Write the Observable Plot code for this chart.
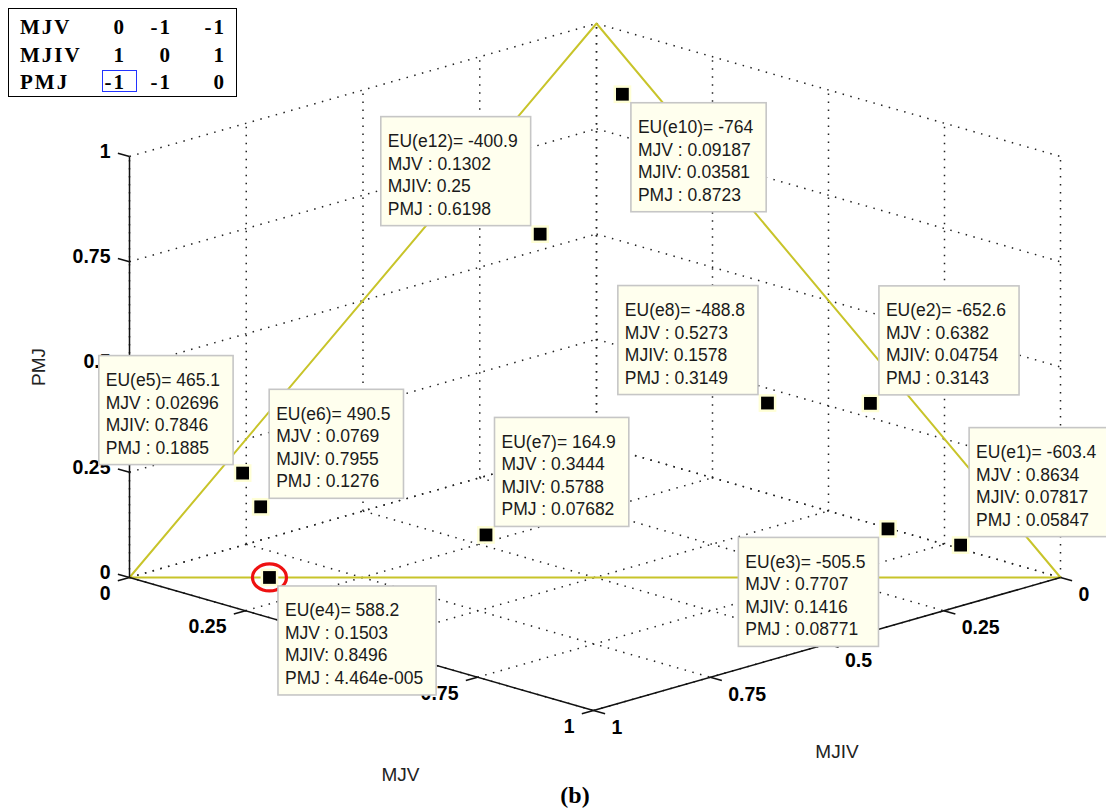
<!DOCTYPE html>
<html>
<head>
<meta charset="utf-8">
<script src="https://cdn.jsdelivr.net/npm/d3@7"></script>
<script src="https://cdn.jsdelivr.net/npm/@observablehq/plot@0.6"></script>
<style>
  body { margin: 0; background: #fff; }
  #wrap { position: relative; width: 1106px; height: 810px; overflow: hidden; }
  .cell { position: absolute; font: bold 21px "Liberation Serif", "Times New Roman", serif; line-height: 21px; letter-spacing: 2px; color: #000; white-space: nowrap; }
  #caption { position: absolute; left: 525px; top: 782px; width: 100px; height: 28px; line-height: 28px; text-align: center; font: bold 24px "Liberation Serif", serif; }
</style>
</head>
<body>
<div id="wrap"></div>
<script>
// ---------------- data ----------------
const tipNames = ["e1", "e2", "e3", "e4", "e5", "e6", "e7", "e8", "e10", "e12"];
const euValues = [-603.4, -652.6, -505.5, 588.2, 465.1, 490.5, 164.9, -488.8, -764, -400.9];
const mjvValues = [0.8634, 0.6382, 0.7707, 0.1503, 0.02696, 0.0769, 0.3444, 0.5273, 0.09187, 0.1302];
const mjivValues = [0.07817, 0.04754, 0.1416, 0.8496, 0.7846, 0.7955, 0.5788, 0.1578, 0.03581, 0.25];
const pmjValues = [0.05847, 0.3143, 0.08771, 4.464e-5, 0.1885, 0.1276, 0.07682, 0.3149, 0.8723, 0.6198];
const highlighted = "e4";

const tickValues = [0, 0.25, 0.5, 0.75, 1];
const tickLabels = ["0", "0.25", "0.5", "0.75", "1"];
const axisNames = ["MJV", "MJIV", "PMJ"];

const tableRows = ["MJV", "MJIV", "PMJ"];
const tableValues = [[0, -1, -1], [1, 0, 1], [-1, -1, 0]];
const tableHighlight = [2, 0];

// ---------------- layout ----------------
const W = 1106, H = 782;
// data-tip box placement relative to its point (u = up, l = left, ...)
const tipSide = ["ur", "ur", "ll", "lr", "ul", "ur", "ur", "ul", "lr", "ul"];

// oblique projection of the 3-D box onto screen units
const O = [129, 577], U = [464, 133], V = [467, -133], Z = 421;
function proj(a, b, c) {
  return [O[0] + U[0] * a + V[0] * (1 - b), O[1] + U[1] * a + V[1] * (1 - b) - Z * c];
}
function seg(p, q, kind) {
  const A = proj(...p), B = proj(...q);
  return {x1: A[0], y1: A[1], x2: B[0], y2: B[1], kind};
}

// MATLAB-like %g with 4 significant digits
function g4(v) {
  if (v === 0) return "0";
  const e = Math.floor(Math.log10(Math.abs(v)));
  if (e < -4 || e >= 4) {
    let [m, ex] = v.toExponential(3).split("e");
    if (m.includes(".")) m = m.replace(/\.?0+$/, "");
    const sign = ex[0] === "-" ? "-" : "+";
    return m + "e" + sign + String(Math.abs(+ex)).padStart(3, "0");
  }
  let s = v.toPrecision(4);
  if (s.includes(".")) s = s.replace(/\.?0+$/, "");
  return s;
}

// grid segments (back walls + floor)
const grid = [];
for (const t of tickValues) {
  grid.push(seg([t, 1, 0], [t, 0, 0]));   // floor, MJV const
  grid.push(seg([0, t, 0], [1, t, 0]));   // floor, MJIV const
  grid.push(seg([0, t, 0], [0, t, 1]));   // wall MJV=0 vertical
  grid.push(seg([0, 1, t], [0, 0, t]));   // wall MJV=0 horizontal
  grid.push(seg([t, 0, 0], [t, 0, 1]));   // wall MJIV=0 vertical
  grid.push(seg([0, 0, t], [1, 0, t]));   // wall MJIV=0 horizontal
}
// axis lines and ticks
const L = 0.025;
const axes = [
  seg([0, 1, 0], [0, 1, 1]),
  seg([0, 1, 0], [1, 1, 0]),
  seg([1, 1, 0], [1, 0, 0])
];
for (const t of tickValues) {
  axes.push(seg([t, 1, 0], [t, 1 + L, 0]));
  axes.push(seg([1, t, 0], [1 + L, t, 0]));
  axes.push(seg([0, 1, t], [-L, 1, t]));
}
const labelsMJV = tickValues.map((t, i) => { const p = proj(t, 1, 0); return {x: p[0], y: p[1], text: tickLabels[i]}; });
const labelsMJIV = tickValues.map((t, i) => { const p = proj(1, t, 0); return {x: p[0], y: p[1], text: tickLabels[i]}; });
const labelsPMJ = tickValues.map((t, i) => { const p = proj(0, 1, t); return {x: p[0], y: p[1], text: tickLabels[i]}; });

// simplex triangle
const simplex = [[1, 0, 0], [0, 1, 0], [0, 0, 1], [1, 0, 0]].map(v => { const p = proj(...v); return {x: p[0], y: p[1]}; });

// points + data tips
const canvas = document.createElement("canvas").getContext("2d");
const tipFont = 17.5;
canvas.font = `${tipFont}px "Liberation Sans"`;
const lineH = 22.5;
const points = tipNames.map((n, i) => {
  const p = proj(mjvValues[i], mjivValues[i], pmjValues[i]);
  const lines = [
    `EU(${n})= ${g4(euValues[i])}`,
    `MJV : ${g4(mjvValues[i])}`,
    `MJIV: ${g4(mjivValues[i])}`,
    `PMJ : ${g4(pmjValues[i])}`
  ];
  const w = Math.max(...lines.map(s => canvas.measureText(s).width)) + 20;
  const h = 4 * lineH + 19;
  const side = tipSide[i];
  const x1 = side[1] === "r" ? p[0] + 9 : p[0] - 9 - w;
  const y1 = side[0] === "l" ? p[1] + 9 : p[1] - 8 - h;
  return {name: n, x: p[0], y: p[1], text: lines.join("\n"), bx1: x1, bx2: x1 + w, by1: y1, by2: y1 + h};
});

const ellipse = {
  draw(ctx) {
    const rx = 17, ry = 13.5, k = 0.5523;
    ctx.moveTo(rx, 0);
    ctx.bezierCurveTo(rx, ry * k, rx * k, ry, 0, ry);
    ctx.bezierCurveTo(-rx * k, ry, -rx, ry * k, -rx, 0);
    ctx.bezierCurveTo(-rx, -ry * k, -rx * k, -ry, 0, -ry);
    ctx.bezierCurveTo(rx * k, -ry, rx, -ry * k, rx, 0);
    ctx.closePath();
  }
};

const midMJV = proj(0.5, 1, 0), midMJIV = proj(1, 0.5, 0), midPMJ = proj(0, 1, 0.5);
const titles = [
  {x: midMJV[0], y: midMJV[1], text: axisNames[0], dx: 39, dy: 131, rotate: 0},
  {x: midMJIV[0], y: midMJIV[1], text: axisNames[1], dx: 10, dy: 108, rotate: 0},
  {x: midPMJ[0], y: midPMJ[1], text: axisNames[2], dx: -91, dy: 0, rotate: -90}
];

const tickFont = {fontFamily: "Liberation Sans, Arial, sans-serif", fontSize: 19.5, fontWeight: "bold", fill: "#000"};

const chart = Plot.plot({
  width: W, height: H, margin: 0,
  style: {background: "transparent", overflow: "visible"},
  x: {domain: [0, W], range: [0, W], axis: null},
  y: {domain: [0, H], range: [0, H], axis: null},
  marks: [
    Plot.link(grid, {x1: "x1", y1: "y1", x2: "x2", y2: "y2", stroke: "#222", strokeWidth: 1.5, strokeDasharray: "1.5 6.5"}),
    Plot.line(simplex, {x: "x", y: "y", stroke: "#c8c42a", strokeWidth: 2}),
    Plot.link(axes, {x1: "x1", y1: "y1", x2: "x2", y2: "y2", stroke: "#111", strokeWidth: 1.5}),
    Plot.text(labelsMJV, {x: "x", y: "y", text: "text", dx: -19, dy: 16, textAnchor: "end", ...tickFont, ariaLabel: "ticklbl"}),
    Plot.text(labelsMJIV, {x: "x", y: "y", text: "text", dx: 18, dy: 17, textAnchor: "start", ...tickFont, ariaLabel: "ticklbl"}),
    Plot.text(labelsPMJ, {x: "x", y: "y", text: "text", dx: -19, dy: -5, textAnchor: "end", ...tickFont, ariaLabel: "ticklbl"}),
    ...titles.map(t => Plot.text([t], {x: "x", y: "y", text: "text", dx: t.dx, dy: t.dy, rotate: t.rotate, fontFamily: "Liberation Sans, Arial, sans-serif", fontSize: 19, fill: "#222"})),
    Plot.dot(points, {x: "x", y: "y", symbol: "square", r: 10, fill: "#ffffd6", stroke: "none"}),
    Plot.dot(points, {x: "x", y: "y", symbol: "square", r: 7.2, fill: "#000", stroke: "none"}),
    Plot.dot(points.filter(d => d.name === highlighted), {x: "x", y: "y", symbol: ellipse, r: 16, fill: "none", stroke: "#ee1111", strokeWidth: 3.2}),
    Plot.rect(points, {x1: "bx1", x2: "bx2", y1: "by1", y2: "by2", fill: "#ffffee", stroke: "#c6c6c6", strokeWidth: 1.6}),
    Plot.text(points, {x: "bx1", y: "by1", text: "text", dx: 6.5, dy: 14, textAnchor: "start", lineAnchor: "top", lineHeight: lineH / tipFont, fontFamily: "Liberation Sans, Arial, sans-serif", fontSize: tipFont, fill: "#1a1a1a"})
  ]
});
chart.querySelectorAll('g[aria-label="ticklbl"] text').forEach(t => t.style.letterSpacing = "2px");
chart.style.position = "absolute";
chart.style.left = "0px";
chart.style.top = "0px";

const wrap = document.getElementById("wrap");
wrap.appendChild(chart);

// ---------- matrix legend (HTML overlay) ----------
const box = document.createElement("div");
Object.assign(box.style, {position: "absolute", left: "8px", top: "8px", width: "227px", height: "87px", border: "1.6px solid #000", background: "#fff"});
wrap.appendChild(box);
const baselines = [35, 62.5, 90];
const colRight = [126, 172, 226];
tableRows.forEach((r, i) => {
  const s = document.createElement("span");
  s.className = "cell"; s.textContent = r;
  s.style.left = "20px"; s.style.top = (baselines[i] - 17.6) + "px";
  wrap.appendChild(s);
  tableValues[i].forEach((v, j) => {
    const c = document.createElement("span");
    c.className = "cell"; c.textContent = String(v);
    c.style.left = (colRight[j] - 60) + "px"; c.style.width = "60px"; c.style.textAlign = "right";
    c.style.top = (baselines[i] - 17.6) + "px";
    wrap.appendChild(c);
  });
});
const hl = document.createElement("div");
Object.assign(hl.style, {position: "absolute", left: "102px", top: "70px", width: "33px", height: "20px", border: "1.5px solid #2233ff"});
wrap.appendChild(hl);

const cap = document.createElement("div");
cap.id = "caption"; cap.textContent = "(b)";
wrap.appendChild(cap);
</script>
</body>
</html>
